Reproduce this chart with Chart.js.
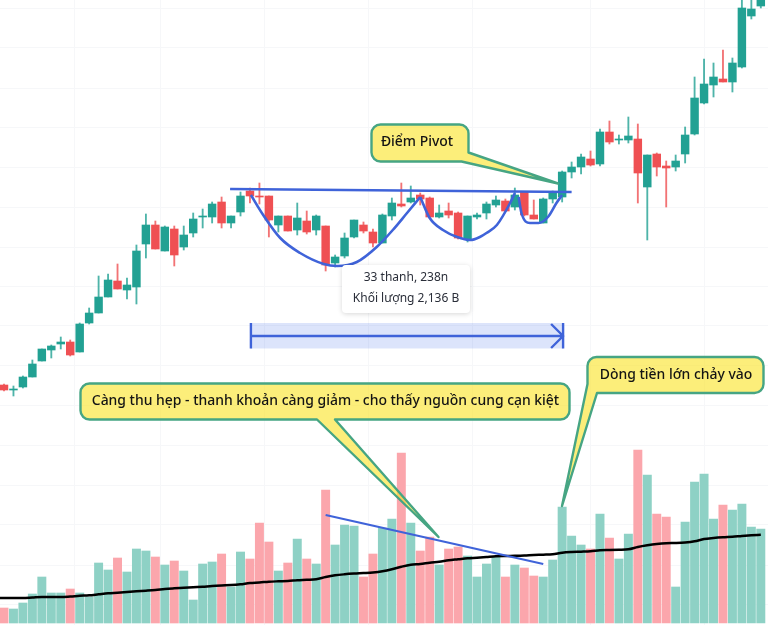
<!DOCTYPE html>
<html lang="vi">
<head>
<meta charset="utf-8">
<title>Điểm Pivot</title>
<script src="https://cdn.jsdelivr.net/npm/chart.js@4"></script>
<style>
    html, body { margin: 0; padding: 0; background: #fff; }
    canvas { display: block; }
</style>
</head>
<body>
<canvas id="chart" width="768" height="625"></canvas>
<script>
// values, no price axis is shown so units are arbitrary
const openPrices = [240,235,238,248,264,275,281,283,273,302,312,328,344,335,338,381,400,374,396,378,392,408,408,423,402,413,434,429,429,400,409,395,404,395,399,362,369,388,400,393,382,409,421,423,430,427,408,414,412,386,408,412,420,424,418,433,410,402,426,428,453,458,466,461,493,485,485,486,438,471,459,458,471,491,522,540,546,543,558,609,619];
const closePrices = [235,236,248,261,276,279,283,270,301,312,328,345,336,340,374,400,376,398,370,390,406,409,421,402,409,429,429,428,405,409,394,407,393,409,360,368,387,405,394,382,410,422,419,427,426,408,412,410,387,409,410,421,425,414,430,410,406,426,432,453,458,468,460,493,483,486,489,452,470,458,457,464,490,527,541,548,543,562,617,616,628];
const highPrices = [241,239,249,265,276,280,288,285,302,317,349,351,361,347,380,411,404,399,399,399,412,416,423,428,409,433,437,442,429,409,409,422,414,410,399,370,392,405,403,396,411,427,442,439,432,428,420,422,413,409,412,423,429,426,437,433,425,427,434,454,463,471,474,496,504,490,508,501,470,472,464,470,498,548,566,562,575,567,630,630,630];
const lowPrices = [234,229,237,248,264,267,276,269,273,301,312,328,336,326,321,367,376,374,359,375,388,397,402,397,397,409,422,421,388,393,394,390,391,390,354,358,367,387,392,378,382,405,418,422,420,407,407,407,386,383,406,406,418,414,415,409,406,402,422,423,447,451,459,459,481,481,482,422,385,449,418,454,462,490,521,528,543,533,557,606,617];
const volumes = [15,14,20,29,46,30,30,34,30,26,60,53,65,51,74,72,66,58,62,52,23,59,61,69,36,71,64,100,81,52,60,84,64,59,133,78,98,97,46,69,95,104,170,100,72,86,58,74,76,67,46,59,66,46,58,55,47,46,63,116,87,78,74,109,85,64,89,173,148,109,106,36,101,141,149,104,118,113,119,96,94];
// starts one bar before the first visible bar, so the line runs off the left edge
const volumeMa = [25,25,25,25,25.5,26,26,26,26.5,27.2,27.7,28.7,29.7,30.3,31,31.7,32.3,33,34,34.7,35.3,35.7,36.3,37,37.5,37.9,38.7,40,40.5,41.3,41.7,42,42.7,43.2,43.8,46,47.7,48.7,49.4,49.9,50.5,51.7,53.7,56.3,58.3,59,60.3,61.3,62.7,63.7,64.7,65.3,66,66.7,67,67.2,67.5,68,68.3,68.7,70.3,71,71.3,71.7,72.7,73,73.3,73.7,76,77.7,79,79.8,80,80.5,81.7,84,85,85.7,86.2,87,87.7,88.3];

// hand drawn lines on the price pane, bar index / price
const pivotLineX = [23.9, 60];
const pivotLineY = [436, 433];
const cupOneX = [26.1,27.4,29.2,31.3,33.8,35.2,37.3,39.4,41.1,42.6,44];
const cupOneY = [430,410,387,372,361,359,363,378,395,412,428];
const cupTwoX = [44,45,46.4,47.9,49.3,50.3,51,52.1,53.5,54];
const cupTwoY = [428,407,395,388,385,388,392,400,422,432];
const cupThreeX = [54.4,54.7,55.6,56.5,57.5,58.4,59];
const cupThreeY = [428,412,402,402,408,422,430];
// falling line on the volume pane
const volTrendX = [34, 57];
const volTrendY = [108, 59];

const timeGridTicks = [3,12,21,34,43,56,68];
const priceGridTicks = [617,577,537,498,458,418,378,339,300,260,220,180,140,101,60,21];

const GREEN = '#22a193';
const RED = '#ef5053';
const VOL_GREEN = '#8ed1c5';
const VOL_RED = '#fba6ac';
const BLUE = '#3f63d9';
const GRID = '#f6f7f9';

const isUp = i => closePrices[i] >= openPrices[i];
const xy = (xs, ys) => xs.map((x, i) => ({ x, y: ys[i] }));

function drawnLine(xs, ys, yAxisID, width) {
    return {
        type: 'line',
        data: xy(xs, ys),
        yAxisID,
        borderColor: BLUE,
        borderWidth: width,
        cubicInterpolationMode: 'monotone',
        pointRadius: 0,
        order: 1
    };
}

// callouts are page furniture, placed in canvas pixels
const callouts = [
    { text: 'Điểm Pivot', box: [371.5, 124.5, 97, 37], textX: 417, textY: 142.5, tail: 'cornerRight', a: [468.5, 152.5], tip: [558, 183.5], b: [461.5, 161.5] },
    { text: 'Càng thu hẹp - thanh khoản càng giảm - cho thấy nguồn cung cạn kiệt', box: [80.5, 383.5, 489, 36], textX: 325.5, textY: 401.5, tail: 'bottom', a: [335, 419.5], tip: [438.5, 537], b: [317, 419.5] },
    { text: 'Dòng tiền lớn chảy vào', box: [587.5, 357, 176, 36], textX: 676, textY: 375, tail: 'cornerLeft', a: [597, 393], tip: [562, 506], b: [587.5, 384] }
];

function calloutPath(ctx, c) {
    const [x, y, w, h] = c.box;
    const r = 9;
    const tail = () => {
        ctx.lineTo(...c.a);
        ctx.lineTo(...c.tip);
        ctx.lineTo(...c.b);
    };
    ctx.beginPath();
    ctx.moveTo(x + r, y);
    ctx.arcTo(x + w, y, x + w, y + r, r);
    if (c.tail === 'cornerRight') {
        tail();
    } else {
        ctx.arcTo(x + w, y + h, x + w - r, y + h, r);
    }
    if (c.tail === 'bottom') tail();
    if (c.tail === 'cornerLeft') {
        tail();
    } else {
        ctx.arcTo(x, y + h, x, y + h - r, r);
    }
    ctx.arcTo(x, y, x + r, y, r);
    ctx.closePath();
}

const overlayPlugin = {
    id: 'overlay',
    afterDatasetsDraw(chart) {
        const { ctx, scales } = chart;
        const px = scales.x, py = scales.y;

        // measured range: band, end bars and arrow
        const left = px.getPixelForValue(26.1);
        const right = px.getPixelForValue(59.1);
        const top = py.getPixelForValue(302);
        const bottom = py.getPixelForValue(276.5);
        const mid = py.getPixelForValue(289);
        ctx.save();
        ctx.fillStyle = 'rgba(80,120,235,0.2)';
        ctx.fillRect(left, top, right - left, bottom - top);
        ctx.strokeStyle = BLUE;
        ctx.lineWidth = 2.4;
        ctx.beginPath();
        ctx.moveTo(left, top); ctx.lineTo(left, bottom);
        ctx.moveTo(left, mid); ctx.lineTo(right, mid);
        ctx.moveTo(right, top); ctx.lineTo(right, bottom);
        ctx.moveTo(right - 12, mid - 12); ctx.lineTo(right, mid); ctx.lineTo(right - 12, mid + 12);
        ctx.stroke();

        // info box
        ctx.shadowColor = 'rgba(0,0,0,0.16)';
        ctx.shadowBlur = 5;
        ctx.shadowOffsetY = 1;
        ctx.fillStyle = '#fff';
        ctx.beginPath();
        ctx.roundRect(342, 265, 128, 48, 4);
        ctx.fill();
        ctx.shadowColor = 'transparent';
        ctx.fillStyle = '#2a2e39';
        ctx.font = '12px "Noto Sans"';
        ctx.textAlign = 'center';
        ctx.textBaseline = 'middle';
        ctx.fillText('33 thanh, 238n', 406, 278);
        ctx.fillText('Khối lượng 2,136 B', 406, 299);

        // yellow callouts
        callouts.forEach(c => {
            calloutPath(ctx, c);
            ctx.fillStyle = 'rgba(250,228,40,0.62)';
            ctx.fill();
            ctx.strokeStyle = '#46a583';
            ctx.lineWidth = 2.4;
            ctx.lineJoin = 'round';
            ctx.stroke();
            ctx.fillStyle = '#141414';
            ctx.font = '500 13.95px "Noto Sans"';
            ctx.fillText(c.text, c.textX, c.textY);
        });
        ctx.restore();
    }
};

new Chart(document.getElementById('chart'), {
    type: 'bar',
    data: {
        datasets: [
            {
                // volume
                data: volumes.map((v, i) => ({ x: i, y: v })),
                yAxisID: 'yVol',
                backgroundColor: volumes.map((v, i) => isUp(i) ? VOL_GREEN : VOL_RED),
                barThickness: 8.3,
                grouped: false,
                order: 6
            },
            {
                // wicks
                data: lowPrices.map((v, i) => ({ x: i, y: [v, highPrices[i]] })),
                yAxisID: 'y',
                backgroundColor: lowPrices.map((v, i) => isUp(i) ? 'rgba(34,161,147,0.8)' : 'rgba(239,80,83,0.8)'),
                barThickness: 1.2,
                grouped: false,
                order: 5
            },
            {
                // bodies
                data: openPrices.map((v, i) => ({ x: i, y: [v, closePrices[i]] })),
                yAxisID: 'y',
                backgroundColor: openPrices.map((v, i) => isUp(i) ? GREEN : RED),
                barThickness: 7.8,
                grouped: false,
                order: 4
            },
            {
                type: 'line',
                data: volumeMa.map((v, i) => ({ x: i - 1, y: v })),
                yAxisID: 'yVol',
                borderColor: '#000',
                borderWidth: 2.5,
                cubicInterpolationMode: 'monotone',
                pointRadius: 0,
                order: 3
            },
            drawnLine(volTrendX, volTrendY, 'yVol', 2.2),
            drawnLine(pivotLineX, pivotLineY, 'y', 2.4),
            drawnLine(cupOneX, cupOneY, 'y', 2.6),
            drawnLine(cupTwoX, cupTwoY, 'y', 2.6),
            drawnLine(cupThreeX, cupThreeY, 'y', 2.6)
        ]
    },
    options: {
        responsive: false,
        animation: false,
        devicePixelRatio: 1,
        layout: { padding: 0 },
        plugins: { legend: { display: false }, tooltip: { enabled: false } },
        scales: {
            x: {
                type: 'linear',
                min: -0.423,
                max: 80.76,
                offset: false,
                border: { display: false },
                grid: { color: GRID, drawTicks: false },
                ticks: { display: false, autoSkip: false },
                afterBuildTicks: scale => { scale.ticks = timeGridTicks.map(value => ({ value })); }
            },
            y: {
                min: 0,
                max: 625,
                border: { display: false },
                grid: { color: GRID, drawTicks: false },
                ticks: { display: false, autoSkip: false },
                afterBuildTicks: scale => { scale.ticks = priceGridTicks.map(value => ({ value })); }
            },
            yVol: {
                display: false,
                min: -2,
                max: 623
            }
        }
    },
    plugins: [overlayPlugin]
});
</script>
</body>
</html>
